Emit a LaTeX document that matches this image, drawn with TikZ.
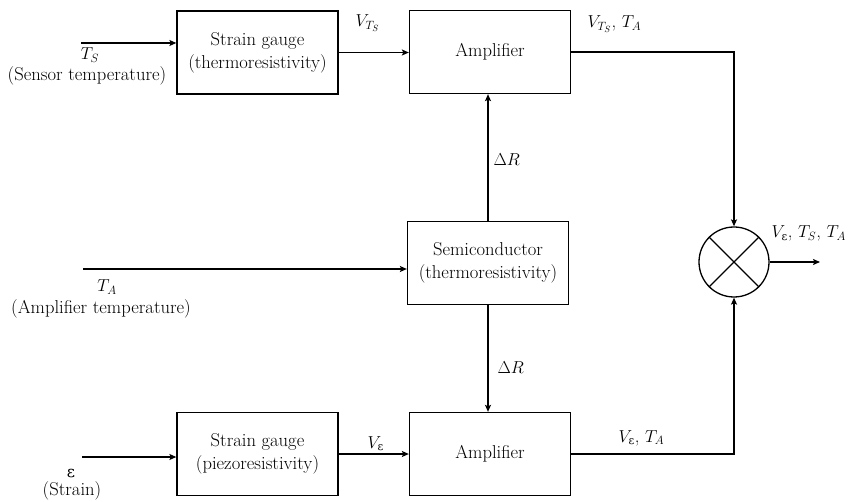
\documentclass[tikz,border=0pt]{standalone}
\usepackage{amsmath}
\usepackage{fontspec}
\newfontfamily\grk[Scale=0.85]{DejaVu Serif}
\usetikzlibrary{arrows.meta,calc}
\newcommand{\epsup}{\text{\grk ε}}
\begin{document}
\begin{tikzpicture}[x=1pt,y=-1pt,
  font=\fontsize{18.6}{23}\selectfont,
  every path/.style={line width=1.3pt},
  block/.style={draw, line width=1.3pt, minimum width=161pt, minimum height=83pt, align=center, inner sep=0pt},
  flow/.style={-{Stealth[length=7pt,width=6pt,inset=1.5pt]}},
  mixer/.style={draw, circle, line width=1.3pt, minimum size=70pt, inner sep=0pt},
  lbl/.style={anchor=base, inner sep=0pt}]
\useasboundingbox (0,0) rectangle (848,502);

% blocks
\node[block] (sg1) at (257.5,52.5) {Strain gauge\\(thermoresistivity)};
\node[block] (amp1) at (490,52) {Amplifier};
\node[block] (semi) at (488,263) {Semiconductor\\(thermoresistivity)};
\node[block] (sg2) at (257.5,454) {Strain gauge\\(piezoresistivity)};
\node[block] (amp2) at (490,454) {Amplifier};
\node[mixer] (mult) at (734,262) {};
\draw (mult.north west) -- (mult.south east);
\draw (mult.north east) -- (mult.south west);

% free ends of the input and output lines
\coordinate (tsin) at (81,43);
\coordinate (tain) at (83,269);
\coordinate (epsin) at (82,457);
\coordinate (out) at (820,262);

% connectors
\draw[flow] (tsin) -- (tsin -| sg1.west);
\draw[flow] (sg1.east) -- (sg1.east -| amp1.west);
\draw[flow] (amp1.east) -| (mult.north);
\draw[flow] (semi.north) -- (semi.north |- amp1.south);
\draw[flow] (tain) -- (tain -| semi.west);
\draw[flow] (semi.south) -- (semi.south |- amp2.north);
\draw[flow] (epsin) -- (epsin -| sg2.west);
\draw[flow] (sg2.east) -- (sg2.east -| amp2.west);
\draw[flow] (amp2.east) -| (mult.south);
\draw[flow] (mult.east) -- (out);

% input labels
\node[lbl] (tslab) at (90,60) {$T_S$};
\node[lbl] (tsname) at (87,81) {(Sensor temperature)};
\node[lbl] (talab) at (107,292) {$T_A$};
\node[lbl] (taname) at (101,313) {(Amplifier temperature)};
\node[lbl] (epslab) at (71,477) {\grk ε};
\node[lbl] (epsname) at (72,495) {(Strain)};

% signal labels
\node[lbl, anchor=base west] (vts) at (355,27) {$V_{T_S}$};
\node[lbl, anchor=base west] (vtsta) at (587,28) {$V_{T_S}$, $T_A$};
\node[lbl, anchor=base west] (dr1) at (493,166) {$\Delta R$};
\node[lbl, anchor=base west] (dr2) at (497,373) {$\Delta R$};
\node[lbl, anchor=base west] (ve) at (367,448) {$V_{\epsup}$};
\node[lbl, anchor=base west] (veta) at (618,442) {$V_{\epsup}$, $T_A$};
\node[lbl, anchor=base west] (vetsta) at (771,238) {$V_{\epsup}$, $T_S$, $T_A$};
\end{tikzpicture}
\end{document}
